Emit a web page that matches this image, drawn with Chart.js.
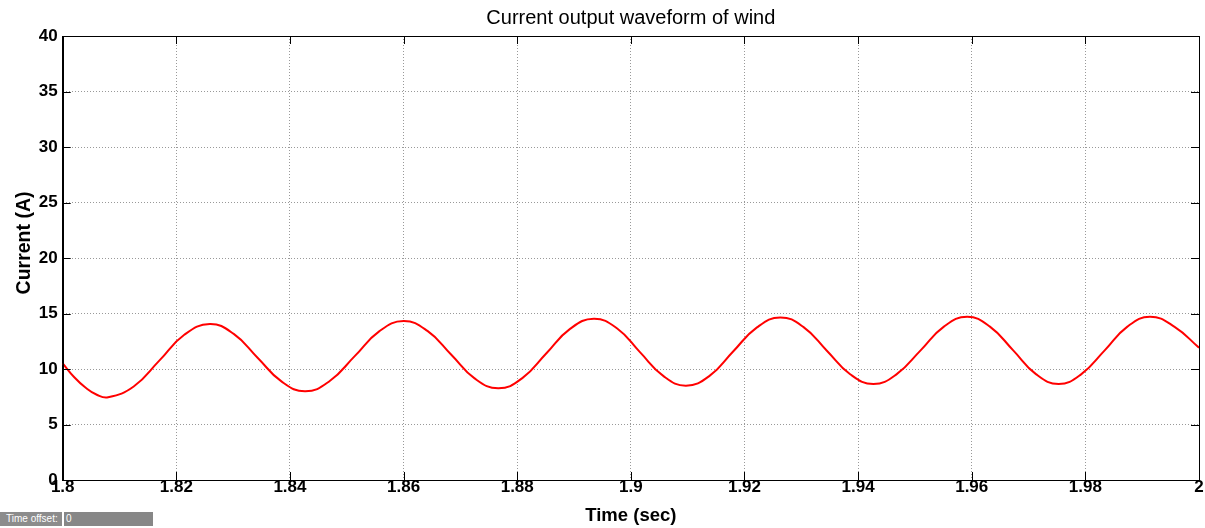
<!DOCTYPE html>
<html>
<head>
<meta charset="utf-8">
<script src="https://cdn.jsdelivr.net/npm/chart.js@4"></script>
<style>
  html, body { margin: 0; padding: 0; background: #fff; }
  #wrap { position: relative; width: 1205px; height: 528px; }
  #offset { position: absolute; left: 0; top: 512px; height: 14px; width: 153px;
            font-family: "Liberation Sans", Arial, sans-serif; font-size: 10px; color: #fff; }
  #offset .lab { position: absolute; left: 0; top: 0; width: 62px; height: 14px; background: #8c8c8c; line-height: 14px; padding-left: 6px; box-sizing: border-box; }
  #offset .val { position: absolute; left: 64px; top: 0; width: 89px; height: 14px; background: #878787; line-height: 14px; padding-left: 2px; box-sizing: border-box; }
</style>
</head>
<body>
<div id="wrap">
  <canvas id="waveChart" width="1205" height="528"></canvas>
  <div id="offset"><div class="lab">Time offset:</div><div class="val">0</div></div>
</div>
<script>
// values (peaks, troughs and points between)
const times = [
  1.8000, 1.8020, 1.8040, 1.8060, 1.8080, 1.8125, 1.8170, 1.8214, 1.8259,
  1.8301, 1.8343, 1.8385, 1.8427, 1.8470, 1.8514, 1.8557, 1.8600,
  1.8642, 1.8684, 1.8725, 1.8767, 1.8809, 1.8851, 1.8893, 1.8935,
  1.8976, 1.9016, 1.9057, 1.9097, 1.9139, 1.9180, 1.9222, 1.9263,
  1.9304, 1.9345, 1.9386, 1.9427, 1.9468, 1.9510, 1.9551, 1.9592,
  1.9632, 1.9673, 1.9713, 1.9753, 1.9793, 1.9834, 1.9874, 1.9914,
  1.9957, 2.0000
];
const currents = [
  10.50, 9.28, 8.33, 7.68, 7.45, 8.42, 10.75, 13.08, 14.05,
  13.16, 11.02, 8.88, 7.99, 8.92, 11.16, 13.39, 14.32,
  13.43, 11.29, 9.15, 8.26, 9.18, 11.40, 13.61, 14.53,
  13.65, 11.52, 9.38, 8.50, 9.40, 11.58, 13.75, 14.65,
  13.77, 11.65, 9.53, 8.65, 9.54, 11.68, 13.82, 14.71,
  13.82, 11.68, 9.54, 8.65, 9.54, 11.68, 13.82, 14.71,
  13.80, 11.92
];
const xTicks = [1.8, 1.82, 1.84, 1.86, 1.88, 1.9, 1.92, 1.94, 1.96, 1.98, 2];
const yTicks = [0, 5, 10, 15, 20, 25, 30, 35, 40];

const family = "'Liberation Sans', Arial, sans-serif";

// title, y label, inward tick marks and the closed box, like the scope window
const scopeFrame = {
  id: 'scopeFrame',
  afterDraw(chart) {
    const { ctx, chartArea: a, scales } = chart;
    ctx.save();
    ctx.strokeStyle = '#000';
    ctx.lineWidth = 1;
    const len = 8;
    ctx.beginPath();
    xTicks.forEach(v => {
      const x = Math.round(scales.x.getPixelForValue(v)) + 0.5;
      ctx.moveTo(x, a.bottom); ctx.lineTo(x, a.bottom - len);
      ctx.moveTo(x, a.top); ctx.lineTo(x, a.top + len);
    });
    yTicks.forEach(v => {
      const y = Math.round(scales.y.getPixelForValue(v)) + 0.5;
      ctx.moveTo(a.left, y); ctx.lineTo(a.left + len, y);
      ctx.moveTo(a.right, y); ctx.lineTo(a.right - len, y);
    });
    ctx.stroke();
    ctx.strokeRect(Math.round(a.left) + 0.5, Math.round(a.top) + 0.5,
                   Math.round(a.right - a.left), Math.round(a.bottom - a.top));

    ctx.fillStyle = '#000';
    ctx.textAlign = 'center';
    ctx.textBaseline = 'middle';
    ctx.font = '20px ' + family;
    ctx.fillText('Current output waveform of wind', (a.left + a.right) / 2, 18);

    ctx.translate(25, 243);
    ctx.rotate(-Math.PI / 2);
    ctx.font = 'bold 19.5px ' + family;
    ctx.fillText('Current (A)', 0, 0);
    ctx.restore();
  }
};

const ctx = document.getElementById('waveChart').getContext('2d');

let chart = new Chart(ctx, {
  type: 'line',
  data: {
    datasets: [{
      label: 'Current',
      data: times.map((t, i) => ({ x: t, y: currents[i] })),
      borderColor: '#ff0000',
      borderWidth: 2,
      pointRadius: 0,
      tension: 0.45,
      fill: false
    }]
  },
  options: {
    responsive: false,
    animation: false,
    layout: { padding: { left: 0, right: 6, top: 36, bottom: 0 } },
    plugins: {
      legend: { display: false },
      tooltip: { enabled: false },
      title: { display: false }
    },
    scales: {
      x: {
        type: 'linear',
        min: 1.8,
        max: 2,
        afterBuildTicks: s => { s.ticks = xTicks.map(v => ({ value: v })); },
        afterFit: s => { s.height = 48; },
        ticks: {
          color: '#000',
          font: { family, size: 17, weight: 'bold' },
          padding: -3,
          maxRotation: 0,
          callback: v => String(Math.round(v * 100) / 100)
        },
        grid: { color: '#999', drawTicks: false, tickLength: 0 },
        border: { color: '#000', dash: [1, 2] },
        title: {
          display: true,
          text: 'Time (sec)',
          color: '#000',
          font: { family, size: 18.5, weight: 'bold' },
          padding: { top: 0, bottom: 1 }
        }
      },
      y: {
        type: 'linear',
        min: 0,
        max: 40,
        afterBuildTicks: s => { s.ticks = yTicks.map(v => ({ value: v })); },
        afterFit: s => { s.width = 62.7; },
        ticks: { color: '#000', font: { family, size: 17, weight: 'bold' }, padding: 5 },
        grid: { color: '#999', drawTicks: false, tickLength: 0 },
        border: { color: '#000', dash: [1, 2] },
        title: { display: false }
      }
    }
  },
  plugins: [scopeFrame]
});
</script>
</body>
</html>
